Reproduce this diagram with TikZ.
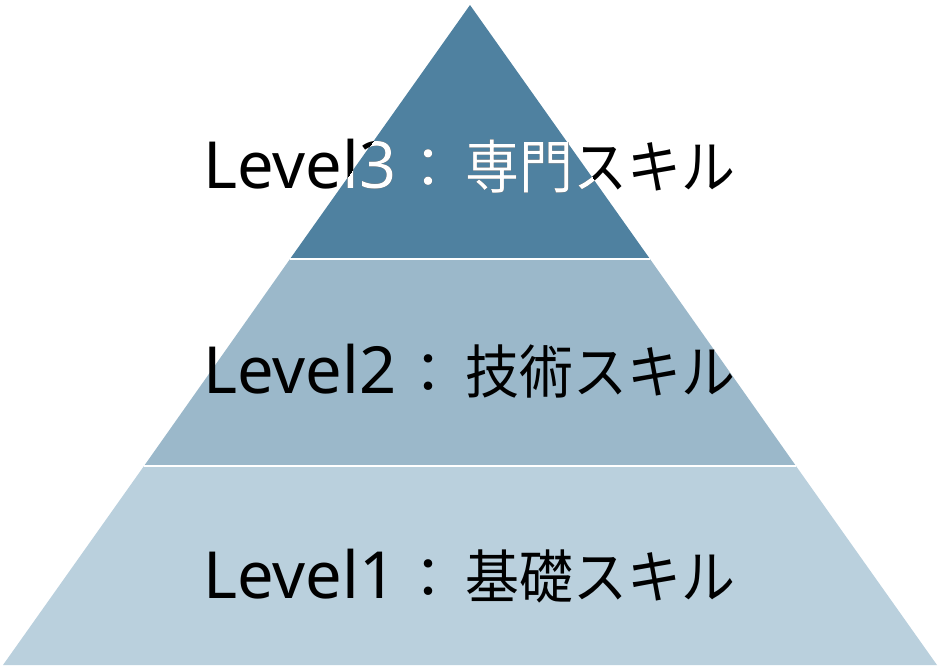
\documentclass[tikz,border=0pt]{standalone}
\usepackage{fontspec}
\setmainfont{Noto Sans}
\newfontfamily\cjkf{Noto Sans CJK JP}
\newcommand{\lvltext}[2]{\makebox[188pt][l]{\fontsize{65}{65}\selectfont #1}\makebox[74pt]{\cjkf\fontsize{56}{56}\selectfont ：}\makebox[270pt][r]{\scalebox{0.93}[1]{\cjkf\fontsize{58}{58}\selectfont #2}}}
\begin{document}
\begin{tikzpicture}[x=1pt,y=-1pt,
  lbl/.style={anchor=base west,inner sep=0pt},
  sep/.style={draw=white,line width=2pt}]
\definecolor{topc}{RGB}{79,129,160}
\definecolor{midc}{RGB}{155,184,202}
\definecolor{botc}{RGB}{186,208,221}
\useasboundingbox (0,0) rectangle (940,667);
\coordinate (apex) at (470,5);
\coordinate (bl) at (3,665);
\coordinate (br) at (937,665);
\coordinate (l2) at (144,466);
\coordinate (r2) at (796,466);
\coordinate (l1) at (290,259);
\coordinate (r1) at (650,259);
\fill[botc] (l2) -- (r2) -- (br) -- (bl) -- cycle;
\fill[midc] (l1) -- (r1) -- (r2) -- (l2) -- cycle;
\fill[topc] (apex) -- (r1) -- (l1) -- cycle;
\draw[sep] (l1) -- (r1);
\draw[sep] (l2) -- (r2);
\node[lbl] (t3) at (203,188) {\lvltext{Level3}{専門スキル}};
\begin{scope}
\clip (apex) -- (r1) -- (l1) -- cycle;
\node[lbl,text=white] (t3w) at (203,188) {\lvltext{Level3}{専門スキル}};
\end{scope}
\node[lbl] (t2) at (203,393) {\lvltext{Level2}{技術スキル}};
\node[lbl] (t1) at (203,598) {\lvltext{Level1}{基礎スキル}};
\end{tikzpicture}
\end{document}
